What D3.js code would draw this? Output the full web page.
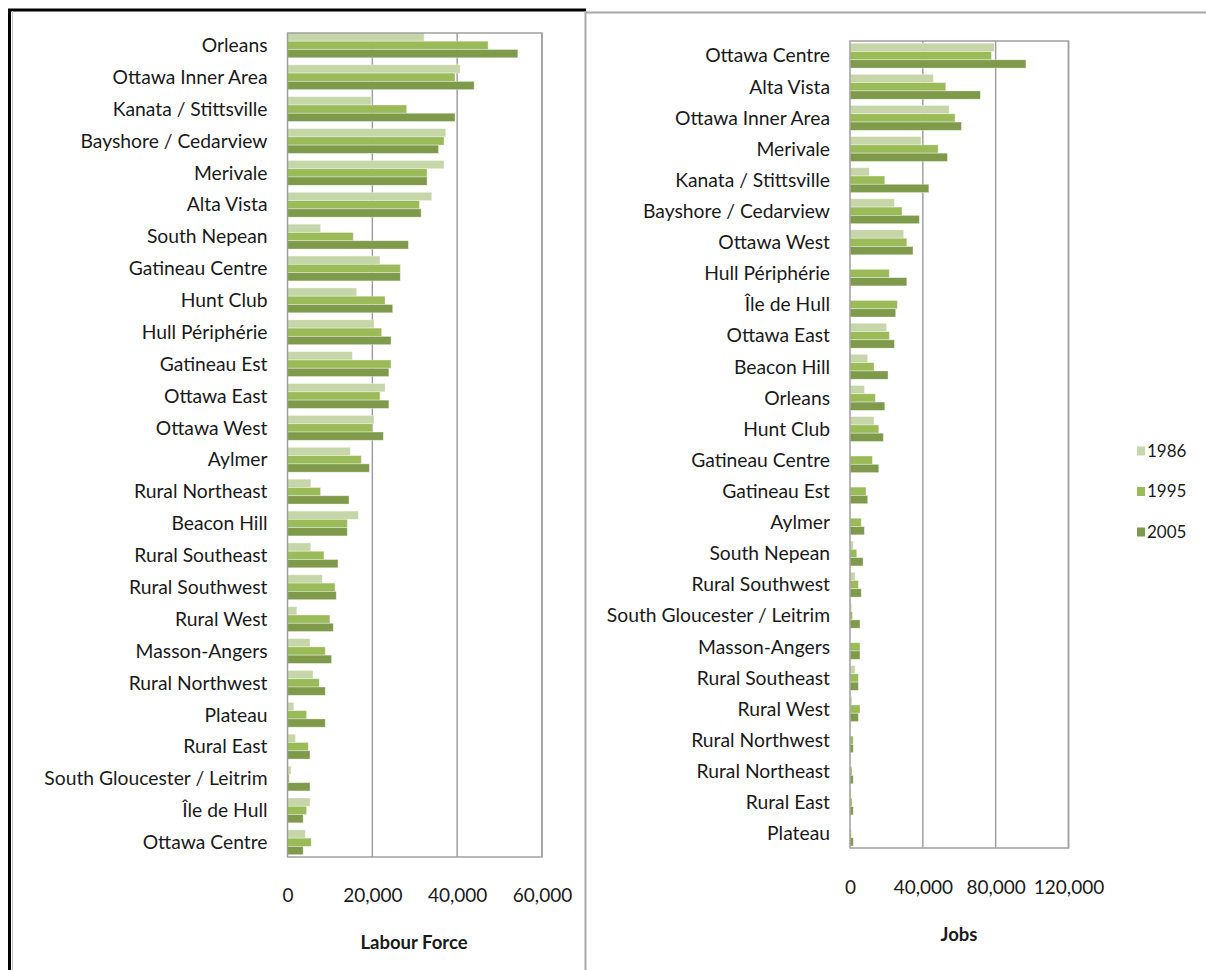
<!DOCTYPE html>
<html>
<head>
<meta charset="utf-8">
<script src="https://cdn.jsdelivr.net/npm/d3@7"></script>
<style>
  body { margin: 0; background: #fff; }
  svg { display: block; font-family: Lato, "Open Sans", sans-serif; }
</style>
</head>
<body>
<svg id="chart" width="1206" height="970"></svg>
<script>
// Labour force by district (left panel)
const lfCategories = [
    "Orleans", "Ottawa Inner Area", "Kanata / Stittsville", "Bayshore / Cedarview",
    "Merivale", "Alta Vista", "South Nepean", "Gatineau Centre", "Hunt Club",
    "Hull Périphérie", "Gatineau Est", "Ottawa East", "Ottawa West", "Aylmer",
    "Rural Northeast", "Beacon Hill", "Rural Southeast", "Rural Southwest",
    "Rural West", "Masson-Angers", "Rural Northwest", "Plateau", "Rural East",
    "South Gloucester / Leitrim", "Île de Hull", "Ottawa Centre"
];
const lf1986 = [32200, 40700, 19700, 37300, 36900, 34000, 7800, 21800, 16300, 20400, 15300, 23000, 20400, 14800, 5500, 16700, 5500, 8200, 2200, 5300, 6000, 1500, 1900, 800, 5300, 4200];
const lf1995 = [47300, 39500, 28100, 36900, 32900, 31100, 15500, 26600, 23000, 22200, 24400, 21800, 20000, 17400, 7800, 14100, 8600, 11200, 10000, 8900, 7500, 4500, 4900, 400, 4500, 5600];
const lf2005 = [54300, 44000, 39500, 35600, 32900, 31500, 28500, 26600, 24800, 24400, 23900, 23900, 22600, 19300, 14500, 14100, 11900, 11500, 10800, 10400, 8900, 8900, 5300, 5300, 3700, 3700];
const lfTicks = [0, 20000, 40000, 60000];

// Jobs by district (right panel)
const jobCategories = [
    "Ottawa Centre", "Alta Vista", "Ottawa Inner Area", "Merivale", "Kanata / Stittsville",
    "Bayshore / Cedarview", "Ottawa West", "Hull Périphérie", "Île de Hull", "Ottawa East",
    "Beacon Hill", "Orleans", "Hunt Club", "Gatineau Centre", "Gatineau Est", "Aylmer",
    "South Nepean", "Rural Southwest", "South Gloucester / Leitrim", "Masson-Angers",
    "Rural Southeast", "Rural West", "Rural Northwest", "Rural Northeast", "Rural East", "Plateau"
];
const jobs1986 = [79300, 45800, 54400, 39000, 10600, 24400, 29500, null, null, 20000, 9700, 7900, 13200, null, null, null, 1800, 2800, 900, null, 2800, 1100, null, null, 600, null];
const jobs1995 = [77700, 52600, 57700, 48400, 19100, 28600, 31200, 21600, 26000, 21600, 13200, 13900, 15800, 12300, 8800, 6200, 3700, 4600, 1300, 5500, 4600, 5500, 1800, 1100, 1100, 700];
const jobs2005 = [96600, 71600, 61200, 53500, 43300, 38100, 34600, 31200, 25100, 24400, 20900, 19100, 18300, 15800, 9700, 7900, 7200, 6200, 5500, 5500, 4600, 4600, 1800, 1800, 1800, 1800];
const jobTicks = [0, 40000, 80000, 120000];

const years = ["1986", "1995", "2005"];
const colors = ["#c6d6a9", "#9bbb59", "#7e9a4a"];

const svg = d3.select("#chart");

// Outer frame lines
svg.append("line").attr("x1", 8).attr("x2", 586).attr("y1", 10).attr("y2", 10)
    .attr("stroke", "#000").attr("stroke-width", 3);
svg.append("line").attr("x1", 9.5).attr("x2", 9.5).attr("y1", 9).attr("y2", 970)
    .attr("stroke", "#000").attr("stroke-width", 3);
svg.append("line").attr("x1", 12.5).attr("x2", 12.5).attr("y1", 11).attr("y2", 970)
    .attr("stroke", "#c8c8c8").attr("stroke-width", 1);
svg.append("line").attr("x1", 585).attr("x2", 1206).attr("y1", 12.5).attr("y2", 12.5)
    .attr("stroke", "#a8a8a8").attr("stroke-width", 2);
svg.append("line").attr("x1", 585.5).attr("x2", 585.5).attr("y1", 11).attr("y2", 970)
    .attr("stroke", "#a8a8a8").attr("stroke-width", 2);

function drawPanel(opts) {
    const g = svg.append("g");
    const series = [opts.s1986, opts.s1995, opts.s2005];

    const x = d3.scaleLinear().domain([0, opts.max]).range([opts.left, opts.right]);
    const y = d3.scaleBand()
        .domain(opts.categories)
        .range(opts.band)
        .paddingInner(opts.pad)
        .paddingOuter(opts.pad / 2);
    const ySub = d3.scaleBand().domain(years).range([0, y.bandwidth()]);

    // Gridlines
    g.selectAll(".grid")
        .data(opts.ticks.slice(1))
        .enter()
        .append("line")
        .attr("x1", d => x(d)).attr("x2", d => x(d))
        .attr("y1", opts.top).attr("y2", opts.bottom)
        .attr("stroke", "#a0a0a0")
        .attr("stroke-width", 1.5);

    // Bars
    years.forEach((yr, si) => {
        const rows = opts.categories.map((c, i) => ({ cat: c, v: series[si][i] }))
            .filter(d => d.v != null);
        g.selectAll(".bar-" + yr)
            .data(rows)
            .enter()
            .append("rect")
            .attr("x", x(0))
            .attr("y", d => y(d.cat) + ySub(yr))
            .attr("width", d => x(d.v) - x(0))
            .attr("height", ySub.bandwidth())
            .attr("fill", colors[si])
            .attr("stroke", "#ffffff")
            .attr("stroke-opacity", 0.45)
            .attr("stroke-width", 0.8);
    });

    // Plot frame
    g.append("rect")
        .attr("x", opts.left).attr("y", opts.top)
        .attr("width", opts.right - opts.left)
        .attr("height", opts.bottom - opts.top)
        .attr("fill", "none")
        .attr("stroke", "#a0a0a0")
        .attr("stroke-width", 1.5);

    // Category labels
    g.selectAll(".cat")
        .data(opts.categories)
        .enter()
        .append("text")
        .attr("x", opts.left - 20)
        .attr("y", d => y(d) + y.bandwidth() / 2)
        .attr("dy", "0.35em")
        .attr("text-anchor", "end")
        .attr("font-size", 19.3)
        .attr("fill", "#1a1a1a")
        .text(d => d);

    // X axis
    const axis = g.append("g")
        .attr("transform", `translate(0, ${opts.bottom})`)
        .call(d3.axisBottom(x).tickValues(opts.ticks).tickSize(0)
            .tickPadding(opts.tickPad).tickFormat(d3.format(",")));
    axis.select(".domain").remove();
    axis.selectAll("text")
        .attr("font-size", 19)
        .attr("font-family", "Lato, sans-serif")
        .attr("fill", "#1a1a1a");

    g.append("text")
        .attr("x", opts.titleX)
        .attr("y", opts.titleY)
        .attr("text-anchor", "middle")
        .attr("font-size", 18.5)
        .attr("font-weight", "bold")
        .attr("fill", "#1a1a1a")
        .text(opts.title);
}

drawPanel({
    categories: lfCategories, s1986: lf1986, s1995: lf1995, s2005: lf2005,
    ticks: lfTicks, max: 60000,
    left: 287.5, right: 542, top: 33, bottom: 857,
    band: [29.4, 858.2], pad: 0.22, tickPad: 32,
    title: "Labour Force", titleX: 414, titleY: 949
});

drawPanel({
    categories: jobCategories, s1986: jobs1986, s1995: jobs1995, s2005: jobs2005,
    ticks: jobTicks, max: 120000,
    left: 850, right: 1068.5, top: 41, bottom: 848,
    band: [40.1, 849.1], pad: 0.2, tickPad: 33,
    title: "Jobs", titleX: 959, titleY: 941
});

// Legend
const legend = svg.append("g").attr("transform", "translate(1137, 451)");
years.forEach((yr, i) => {
    const row = legend.append("g").attr("transform", `translate(0, ${i * 40.5})`);
    row.append("rect")
        .attr("x", 0).attr("y", -4.5)
        .attr("width", 8).attr("height", 9)
        .attr("fill", colors[i]);
    row.append("text")
        .attr("x", 10).attr("y", 0)
        .attr("dy", "0.35em")
        .attr("font-size", 17)
        .attr("fill", "#1a1a1a")
        .text(yr);
});
</script>
</body>
</html>
